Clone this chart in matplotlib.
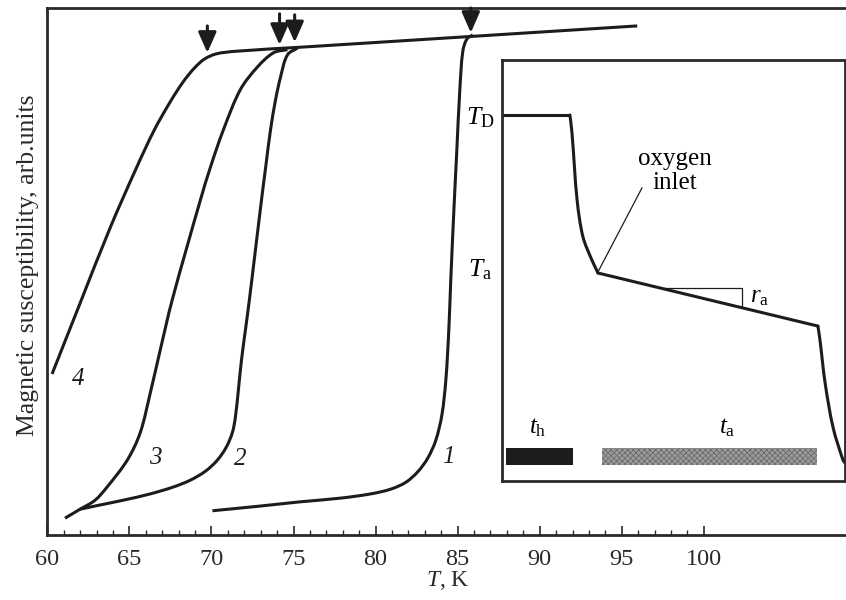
import numpy as np
import matplotlib
matplotlib.use("Agg")
import matplotlib.pyplot as plt
from matplotlib.ticker import FixedLocator
from matplotlib.path import Path
from matplotlib.patches import PathPatch

plt.rcParams['font.family'] = ['Liberation Serif', 'DejaVu Serif']
plt.rcParams['mathtext.fontset'] = 'custom'
plt.rcParams['mathtext.rm'] = 'Liberation Serif'
plt.rcParams['mathtext.it'] = 'Liberation Serif:italic'
plt.rcParams['hatch.linewidth'] = 0.6

# ---------------- main-panel data (T in K, susceptibility in arb. units) ----
curve1_T = [70.06, 72.99, 75.43, 77.87, 79.70, 80.92, 81.84, 82.57, 83.18, 83.67,
            84.04, 84.28, 84.46, 84.58, 84.77, 84.95, 85.13, 85.31, 85.56, 85.92]
curve1_y = [0.046, 0.055, 0.063, 0.070, 0.078, 0.087, 0.100, 0.120, 0.146, 0.180,
            0.228, 0.294, 0.389, 0.484, 0.617, 0.731, 0.844, 0.917, 0.941, 0.949]

curve2_T = [62.00, 63.22, 64.62, 66.27, 67.67, 68.71, 69.63, 70.36, 70.91, 71.28,
            71.46, 71.64, 71.83, 72.07, 72.31, 72.68, 73.05, 73.32, 73.60, 73.90,
            74.21, 74.63, 75.24]
curve2_y = [0.049, 0.057, 0.066, 0.078, 0.091, 0.104, 0.121, 0.142, 0.167, 0.195,
            0.224, 0.275, 0.332, 0.389, 0.446, 0.541, 0.636, 0.702, 0.769, 0.825,
            0.869, 0.911, 0.924]

curve3_T = [61.08, 62.0, 62.91, 63.64, 64.87, 65.66, 66.27, 66.88, 67.61, 69.33,
            69.98, 70.73, 71.76, 72.80, 73.78, 74.63]
curve3_y = [0.032, 0.049, 0.066, 0.091, 0.142, 0.194, 0.269, 0.351, 0.446, 0.636,
            0.702, 0.769, 0.845, 0.888, 0.915, 0.921]

curve4_T = [60.29, 62.00, 63.83, 65.42, 66.51, 67.49, 68.28, 68.96, 69.57, 70.30,
            71.52, 75.43, 85.8, 95.94]
curve4_y = [0.3055, 0.440, 0.583, 0.696, 0.768, 0.822, 0.860, 0.886, 0.903, 0.913,
            0.918, 0.9256, 0.946, 0.966]

curve_labels = ['1', '2', '3', '4']
label_T = [84.41, 71.76, 66.57, 61.87]
label_y = [0.148, 0.144, 0.146, 0.296]

arrow_T = [69.75, 74.15, 75.07, 85.8]
arrow_top = [0.966, 0.989, 0.987, 1.0]
arrow_tip = [0.915, 0.930, 0.935, 0.953]

major_ticks = [60, 65, 70, 75, 80, 85, 90, 95, 100]
minor_ticks = [t for t in range(61, 100) if t % 5 != 0]

# ---------------- inset data (schematic time/temperature) -------------------
hold_t = [0.0, 0.198]
hold_T = [0.8694, 0.8694]
quench_t = [0.198, 0.204, 0.219, 0.236, 0.262, 0.280]
quench_T = [0.8694, 0.827, 0.667, 0.580, 0.525, 0.494]
anneal_t = [0.280, 0.921]
anneal_T = [0.494, 0.368]
cool_t = [0.921, 0.927, 0.942, 0.965, 0.994, 1.0]
cool_T = [0.368, 0.335, 0.233, 0.128, 0.050, 0.043]
slope_tri_t = [0.466, 0.700, 0.700]
slope_tri_T = [0.458, 0.458, 0.416]
bar_labels = ['$t_{\\mathrm{h}}$', '$t_{\\mathrm{a}}$']
bar_start = [0.012, 0.292]
bar_end = [0.207, 0.918]


def smooth_line(ax, xs, ys, **kw):
    """Draw a smooth cubic-Bezier curve passing through the given points."""
    P = ax.transData.transform(np.column_stack([xs, ys]))
    n = len(P)
    verts = [P[0]]
    codes = [Path.MOVETO]
    tang = []
    for i in range(n):
        if i == 0:
            d = P[1] - P[0]
        elif i == n - 1:
            d = P[-1] - P[-2]
        else:
            d = P[i + 1] - P[i - 1]
        nd = np.hypot(*d)
        tang.append(d / nd if nd > 0 else d)
    for i in range(n - 1):
        seg = np.hypot(*(P[i + 1] - P[i]))
        c1 = P[i] + tang[i] * seg / 3
        c2 = P[i + 1] - tang[i + 1] * seg / 3
        verts += [c1, c2, P[i + 1]]
        codes += [Path.CURVE4] * 3
    verts = ax.transData.inverted().transform(np.array(verts))
    patch = PathPatch(Path(verts, codes), facecolor='none', **kw)
    ax.add_patch(patch)
    return patch


# ---------------- figure ----------------------------------------------------
fig = plt.figure(figsize=(8.46, 6.0), dpi=100)
ax = fig.add_axes([47.3 / 846, 1 - 535 / 600, 1 - 47.3 / 846 + 0.002, (535 - 8) / 600])
xmax = 60 + (846 - 47.3) / 16.38
ax.set_xlim(60, xmax)
ax.set_ylim(0, 1)

lw = 2.2
ink = '#1c1c1c'
for T, y in [(curve1_T, curve1_y), (curve2_T, curve2_y), (curve3_T, curve3_y), (curve4_T, curve4_y)]:
    smooth_line(ax, T, y, edgecolor=ink, lw=lw, capstyle='butt', joinstyle='round')

for lab, x, y in zip(curve_labels, label_T, label_y):
    ax.text(x, y, lab, fontsize=18, style='italic', ha='center', va='center', color=ink)

for x, yt, yb in zip(arrow_T, arrow_top, arrow_tip):
    ax.annotate('', xy=(x, yb), xytext=(x, yt),
                arrowprops=dict(arrowstyle='-|>,head_length=0.5,head_width=0.22',
                                mutation_scale=25, lw=2.2, color=ink,
                                shrinkA=0, shrinkB=0))

for s in ['left', 'bottom', 'top']:
    ax.spines[s].set_linewidth(2.0)
    ax.spines[s].set_color('#2a2a2a')
ax.spines['right'].set_visible(False)

ax.xaxis.set_major_locator(FixedLocator(major_ticks))
ax.xaxis.set_minor_locator(FixedLocator(minor_ticks))
ax.tick_params(axis='x', which='major', direction='in', length=6.5, width=1.2,
               labelsize=17.5, pad=10, colors='#2a2a2a')
ax.tick_params(axis='x', which='minor', direction='in', length=3.6, width=1.0, colors='#2a2a2a')
ax.set_yticks([])
ax.set_xlabel('$T$, K', fontsize=17, labelpad=-1, color='#2a2a2a')
fig.text(28 / 846, 1 - 265 / 600, 'Magnetic susceptibility, arb.units', rotation=90,
         ha='center', va='center', fontsize=18.5, color='#2a2a2a')

# ---------------- inset -----------------------------------------------------
axi = fig.add_axes([502 / 846, 1 - 481 / 600, 343 / 846, 421 / 600])
axi.set_xlim(0, 1)
axi.set_ylim(0, 1)
axi.set_xticks([])
axi.set_yticks([])
for s in axi.spines.values():
    s.set_linewidth(2.0)
    s.set_color('#2a2a2a')

axi.plot(hold_t, hold_T, color=ink, lw=lw, solid_capstyle='butt')
smooth_line(axi, quench_t, quench_T, edgecolor=ink, lw=lw, capstyle='round')
axi.plot(anneal_t, anneal_T, color=ink, lw=lw, solid_capstyle='round')
smooth_line(axi, cool_t, cool_T, edgecolor=ink, lw=lw, capstyle='round', clip_on=True)
axi.plot(slope_tri_t, slope_tri_T, color=ink, lw=0.9)
axi.text(0.723, 0.437, '$r_{\\mathrm{a}}$', fontsize=18, ha='left', va='center')
axi.plot([0.280, 0.408], [0.497, 0.696], color=ink, lw=0.9)
axi.text(0.504, 0.737, 'oxygen\ninlet', fontsize=18, ha='center', va='center', linespacing=1.1)

bars = axi.barh([0.058, 0.058], [e - s for s, e in zip(bar_start, bar_end)], left=bar_start,
                height=0.040, linewidth=0)
bars[0].set_facecolor(ink)
bars[1].set_facecolor('#9c9c9c')
bars[1].set_edgecolor('#6a6a6a')
bars[1].set_hatch('xxxxxx')
axi.text(0.105, 0.126, bar_labels[0], fontsize=18, ha='center', va='center')
axi.text(0.656, 0.126, bar_labels[1], fontsize=18, ha='center', va='center')

axi.text(-0.064, 0.862, '$T_{\\mathrm{D}}$', fontsize=18.5, ha='center', va='center', clip_on=False)
axi.text(-0.064, 0.501, '$T_{\\mathrm{a}}$', fontsize=18.5, ha='center', va='center', clip_on=False)

fig.savefig('out.png', dpi=100)
